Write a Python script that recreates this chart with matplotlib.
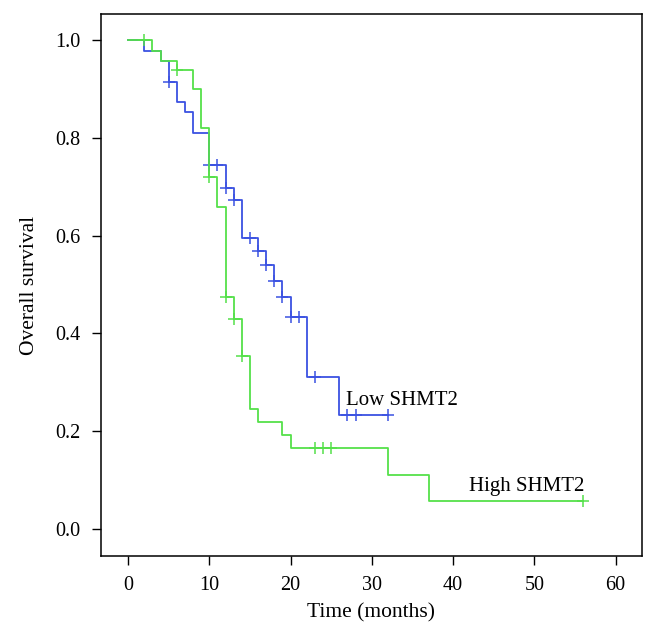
import numpy as np
import matplotlib
matplotlib.use("Agg")
import matplotlib.pyplot as plt

plt.rcParams["font.family"] = ["Liberation Serif", "DejaVu Serif"]

# Low SHMT2 group: step times (months) and survival after each step
low_times = [0, 2, 4, 5, 6, 7, 8, 10, 12, 13, 14, 16, 17, 18, 19, 20, 22, 26]
low_surv = [1.0, 0.978, 0.957, 0.915, 0.874, 0.853, 0.809, 0.745, 0.697,
            0.673, 0.596, 0.569, 0.540, 0.508, 0.474, 0.434, 0.311, 0.233]
low_end = 32
low_censor = [5, 10, 11, 12, 13, 15, 16, 17, 18, 19, 20, 21, 23, 27, 28, 32]

# High SHMT2 group
high_times = [0, 3, 4, 6, 8, 9, 10, 11, 12, 13, 14, 15, 16, 19, 20, 32, 37]
high_surv = [1.0, 0.978, 0.957, 0.939, 0.899, 0.819, 0.720, 0.659, 0.474,
             0.429, 0.354, 0.245, 0.219, 0.192, 0.165, 0.110, 0.057]
high_end = 56
high_censor = [2, 6, 10, 12, 13, 14, 23, 24, 25, 56]

x_ticks = [0, 10, 20, 30, 40, 50, 60]
y_ticks = [0.0, 0.2, 0.4, 0.6, 0.8, 1.0]

blue = "#3b52e2"
green = "#55e04a"


def surv_at(times, surv, t):
    idx = np.searchsorted(times, t, side="right") - 1
    return surv[idx]


fig = plt.figure(figsize=(6.57, 6.38), dpi=100)
ax = fig.add_axes([0.1534, 0.1285, 0.8238, 0.8495])

for times, surv, end, cens, col in [
    (low_times, low_surv, low_end, low_censor, blue),
    (high_times, high_surv, high_end, high_censor, green),
]:
    ax.step(times + [end], surv + [surv[-1]], where="post", color=col, lw=1.3)
    cy = [surv_at(times, surv, t) for t in cens]
    ax.plot(cens, cy, ls="none", marker="+", ms=8, mew=1.1, color=col)

ax.text(26.8, 0.254, "Low SHMT2", fontsize=15, va="baseline", ha="left")
ax.text(42.0, 0.078, "High SHMT2", fontsize=15, va="baseline", ha="left")

ax.set_xlim(-3.35, 63.26)
ax.set_ylim(-0.055, 1.053)
ax.set_xticks(x_ticks)
ax.set_yticks(y_ticks)
ax.set_yticklabels([f"{v:.1f}" for v in y_ticks])
ax.tick_params(labelsize=14.5, length=6.5, width=1.0, direction="out", pad=8)
for sp in ax.spines.values():
    sp.set_linewidth(1.1)

ax.set_xlabel("Time (months)", fontsize=15.5, labelpad=6)
ax.set_ylabel("Overall survival", fontsize=15.5, labelpad=12)

fig.savefig("out.png", dpi=100)
